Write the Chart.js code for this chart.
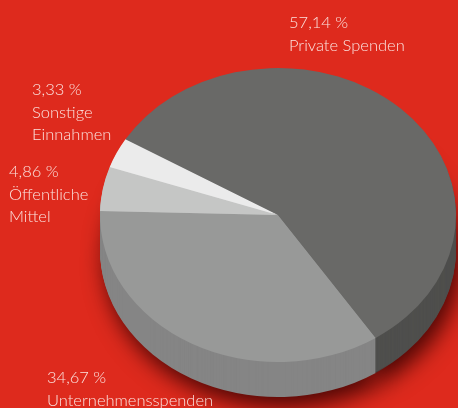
<!DOCTYPE html>
<html>
<head>
<meta charset="utf-8">
<script src="https://cdn.jsdelivr.net/npm/chart.js@4/dist/chart.umd.min.js"></script>
<style>
html, body { margin: 0; padding: 0; background: #de2a1d; overflow: hidden; }
canvas { display: block; }
</style>
</head>
<body>
<canvas id="pie" width="458" height="408"></canvas>
<script>
const categories = [['Private Spenden'], ['Unternehmensspenden'], ['Öffentliche', 'Mittel'], ['Sonstige', 'Einnahmen']];
const shares = [57.14, 34.67, 4.86, 3.33];
const topColors = ['#696967', '#989998', '#c5c6c5', '#ebebeb'];
const sideColors = ['#4f4f4d', '#858585', '#a9aaa9', '#cfcfcf'];

// label block anchors: x, baseline of the first line
const labelPos = [[289, 28], [47, 383], [9, 177], [32, 95]];
const tilt = 0.826;   // vertical squash of the disc
const depth = 35;     // thickness of the disc in px

function squash(ctx, cy, dy) {
    ctx.translate(0, cy + dy);
    ctx.scale(1, tilt);
    ctx.translate(0, -cy);
}

function drawWith(ctx, arcs, colors) {
    arcs.forEach((arc, i) => {
        const o = arc.options;
        arc.options = Object.assign({}, o, { backgroundColor: colors[i], borderWidth: 0 });
        arc.draw(ctx);
        arc.options = o;
    });
}

const pie3d = {
    id: 'pie3d',
    beforeDatasetsDraw(chart) {
        const ctx = chart.ctx;
        const arcs = chart.getDatasetMeta(0).data;
        const cy = arcs[0].y;
        // side wall, stacked from the bottom up
        for (let k = depth; k >= 1; k--) {
            ctx.save();
            if (k === depth) {
                ctx.shadowColor = 'rgba(50, 0, 0, 0.85)';
                ctx.shadowBlur = 22;
                ctx.shadowOffsetX = 5;
                ctx.shadowOffsetY = 10;
            }
            squash(ctx, cy, k);
            drawWith(ctx, arcs, sideColors);
            ctx.restore();
        }
        ctx.save();
        squash(ctx, cy, 0);
    },
    afterDatasetsDraw(chart) {
        const ctx = chart.ctx;
        ctx.restore();
        ctx.save();
        ctx.fillStyle = '#fbe1dd';
        ctx.font = '300 16.5px Lato';
        ctx.textBaseline = 'alphabetic';
        shares.forEach((v, i) => {
            const lines = [v.toFixed(2).replace('.', ',') + ' %'].concat(categories[i]);
            lines.forEach((t, j) => {
                ctx.fillText(t, labelPos[i][0], labelPos[i][1] + j * 22.5);
            });
        });
        ctx.restore();
    }
};

new Chart(document.getElementById('pie').getContext('2d'), {
    type: 'pie',
    data: {
        labels: categories.map(c => c.join(' ')),
        datasets: [{
            data: shares,
            backgroundColor: topColors,
            borderWidth: 0,
            clip: false
        }]
    },
    options: {
        responsive: false,
        animation: false,
        rotation: -59,
        layout: { padding: { left: 100, right: 2, top: 37, bottom: 15 } },
        plugins: {
            legend: { display: false },
            tooltip: { enabled: false }
        }
    },
    plugins: [pie3d]
});
</script>
</body>
</html>
